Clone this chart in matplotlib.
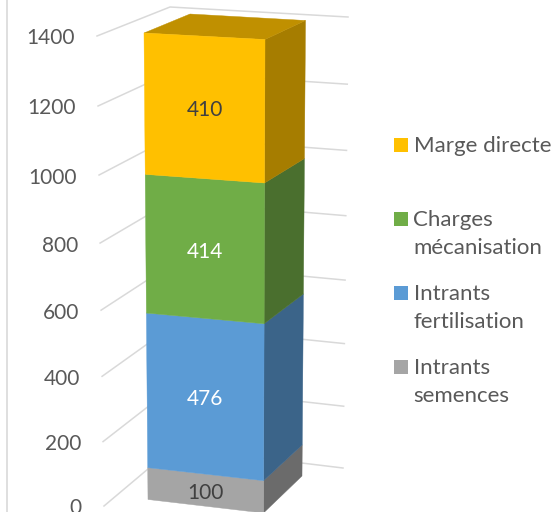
import matplotlib
matplotlib.use('Agg')
import matplotlib.pyplot as plt
from matplotlib.patches import Polygon, Rectangle

# data
series = ['Intrants semences', 'Intrants fertilisation', 'Charges mécanisation', 'Marge directe']
legend_lines = [['Intrants', 'semences'], ['Intrants', 'fertilisation'], ['Charges', 'mécanisation'], ['Marge directe']]
values = [100, 476, 414, 410]
ticks = [0, 200, 400, 600, 800, 1000, 1200, 1400]
vmax = 1400

# colours
front = ['#A5A5A5', '#5B9BD5', '#70AD47', '#FFC000']
side = ['#6B6B6B', '#3B6489', '#4A6F2E', '#A67D00']
top_col = '#C09000'
value_col = ['#404040', '#FFFFFF', '#FFFFFF', '#404040']
text_col = '#595959'
grid_col = '#D9D9D9'

# the 3d look: each vertical edge goes from its point at 0 to its point at vmax (pixels)
FL = ((148, 499.5), (144, 33))
FR = ((263.5, 513), (265, 39.5))
BR = ((302, 476), (305.5, 20.5))
BL = ((186, 462), (190, 14))
GRID_L = ((104, 506), (97, 36))
GRID_C = ((173.5, 447.5), (170, 7))
GRID_R = ((343, 468), (348, 17))
PERSP = 0.05

LEGEND_Y = {'Marge directe': 145, 'Charges mécanisation': 219,
            'Intrants fertilisation': 293, 'Intrants semences': 367}


def project(edge, v):
    '''value -> pixel position on one vertical edge, with a little perspective'''
    t = v / vmax
    t = t / (1 + PERSP * (1 - t))
    (x0, y0), (x1, y1) = edge
    return x0 + (x1 - x0) * t, y0 + (y1 - y0) * t


plt.rcParams['font.family'] = ['Lato', 'DejaVu Sans']
fig = plt.figure(figsize=(5.55, 5.12), dpi=100)
ax = fig.add_axes([0, 0, 1, 1])
ax.set_xlim(0, 555)
ax.set_ylim(512, 0)
ax.axis('off')

# left wall line
ax.plot([6.5, 6.5], [0, 512], color=grid_col, lw=1.2, zorder=1)

# gridlines and tick labels
for tick in ticks:
    pts = [project(GRID_L, tick), project(GRID_C, tick), project(GRID_R, tick)]
    ax.plot([p[0] for p in pts], [p[1] for p in pts], color=grid_col, lw=1.1, zorder=1)
    x, y = pts[0]
    ax.text(x - 22, y + 2.5, str(tick), color=text_col, fontsize=15, ha='right', va='center', zorder=2)

# stacked column
bottom = 0
for i, v in enumerate(values):
    lo, hi = bottom, bottom + v
    face = [project(FL, lo), project(FR, lo), project(FR, hi), project(FL, hi)]
    wall = [project(FR, lo), project(BR, lo), project(BR, hi), project(FR, hi)]
    ax.add_patch(Polygon(face, closed=True, fc=front[i], ec=front[i], lw=0.3, zorder=4))
    ax.add_patch(Polygon(wall, closed=True, fc=side[i], ec=side[i], lw=0.3, zorder=3))
    cx = sum(p[0] for p in face) / 4
    cy = sum(p[1] for p in face) / 4
    ax.text(cx, cy + 3, str(v), color=value_col[i], fontsize=15, ha='center', va='center', zorder=5)
    bottom = hi

lid = [project(FL, bottom), project(FR, bottom), project(BR, bottom), project(BL, bottom)]
ax.add_patch(Polygon(lid, closed=True, fc=top_col, ec=top_col, lw=0.3, zorder=3))

# legend
for i, name in enumerate(series):
    y = LEGEND_Y[name]
    ax.add_patch(Rectangle((394, y - 7), 14, 14, fc=front[i], ec='none', zorder=3))
    for j, line in enumerate(legend_lines[i]):
        ax.text(413.5, y + 1 + j * 28.5, line, color=text_col, fontsize=16, ha='left', va='center', zorder=3)

plt.savefig('out.png', dpi=100)
